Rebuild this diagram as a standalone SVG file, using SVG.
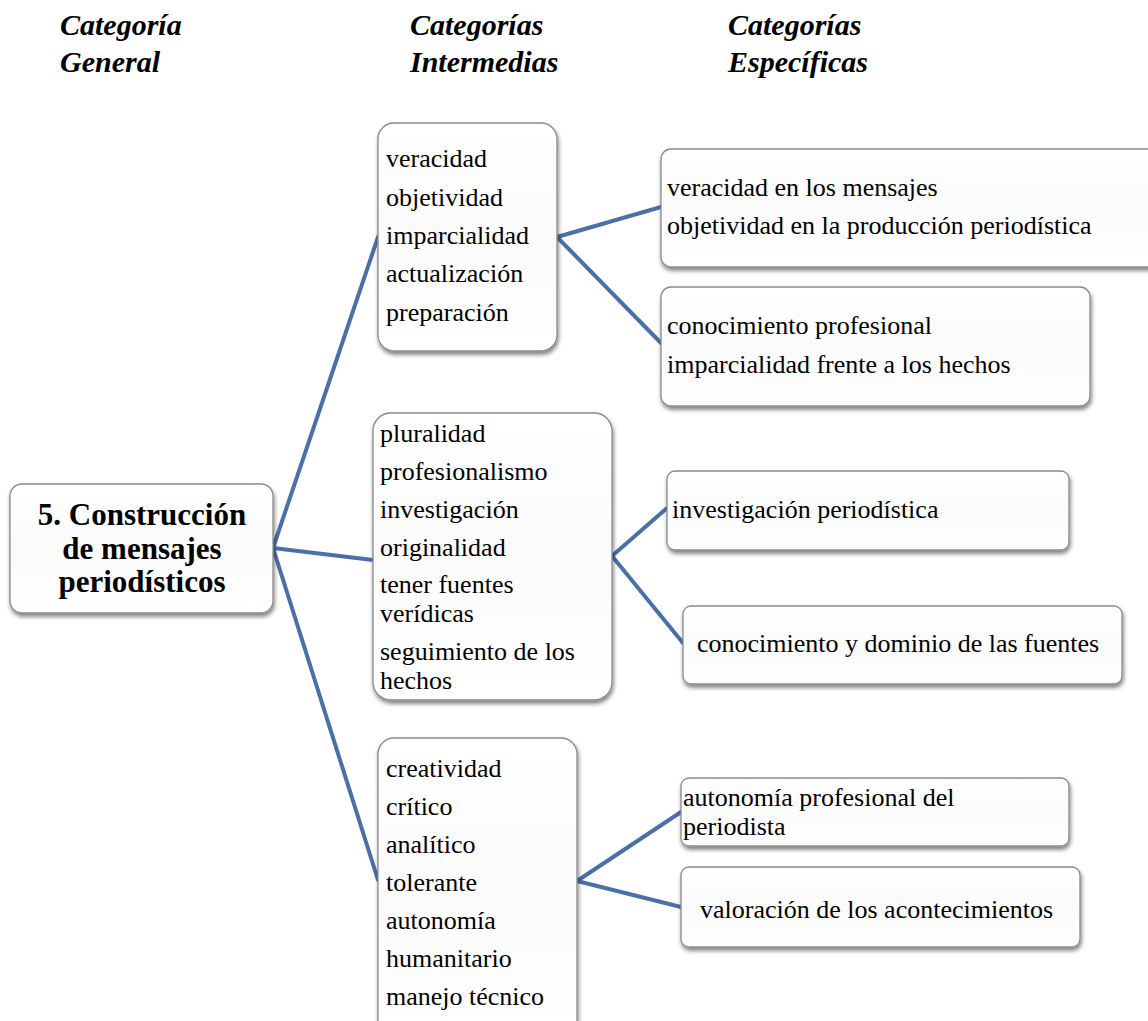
<svg xmlns="http://www.w3.org/2000/svg" width="1148" height="1021" viewBox="0 0 1148 1021">
  <defs>
    <filter id="shadow" x="-5%" y="-5%" width="112%" height="115%">
      <feGaussianBlur in="SourceAlpha" stdDeviation="2"/>
      <feOffset dx="1" dy="3" result="b"/>
      <feComponentTransfer><feFuncA type="linear" slope="0.5"/></feComponentTransfer>
      <feMerge><feMergeNode/><feMergeNode in="SourceGraphic"/></feMerge>
    </filter>
    <linearGradient id="fill" x1="0" y1="0" x2="0" y2="1">
      <stop offset="0" stop-color="#ffffff"/>
      <stop offset="0.5" stop-color="#fbfbfb"/>
      <stop offset="1" stop-color="#ffffff"/>
    </linearGradient>
  </defs>
  <style>
    .box { fill: url(#fill); stroke: #8a8a8a; stroke-width: 1.3; filter: url(#shadow); }
    .hdr { font-family: "Liberation Serif", "Times New Roman", serif; font-size: 30px; font-weight: bold; font-style: italic; fill: #000; }
    .txt { font-family: "Liberation Serif", "Times New Roman", serif; font-size: 26px; fill: #000; }
    .main { font-family: "Liberation Serif", "Times New Roman", serif; font-size: 31px; font-weight: bold; fill: #000; text-anchor: middle; }
    .link { stroke: #4a70a6; stroke-width: 4; fill: none; stroke-linecap: round; }
  </style>
  <rect width="1148" height="1021" fill="#ffffff"/>

  <!-- column headings -->
  <g id="headings">
    <text class="hdr" x="60" y="35">Categoría</text>
    <text class="hdr" x="60" y="72">General</text>
    <text class="hdr" x="410" y="35">Categorías</text>
    <text class="hdr" x="410" y="72">Intermedias</text>
    <text class="hdr" x="728" y="35">Categorías</text>
    <text class="hdr" x="728" y="72">Específicas</text>
  </g>

  <!-- connectors -->
  <g id="connectors">
    <line class="link" x1="273" y1="548" x2="378" y2="237"/>
    <line class="link" x1="273" y1="548" x2="373" y2="560"/>
    <line class="link" x1="273" y1="548" x2="378" y2="880"/>
    <line class="link" x1="557" y1="237" x2="661" y2="207"/>
    <line class="link" x1="557" y1="237" x2="661" y2="343"/>
    <line class="link" x1="612" y1="556" x2="667" y2="508"/>
    <line class="link" x1="612" y1="556" x2="683" y2="643"/>
    <line class="link" x1="577" y1="881" x2="681" y2="812"/>
    <line class="link" x1="577" y1="881" x2="681" y2="907"/>
  </g>

  <!-- general category -->
  <g id="general">
    <rect class="box" x="10" y="484" width="263" height="129" rx="12"/>
    <text class="main" x="142" y="525">5. Construcción</text>
    <text class="main" x="142" y="559">de mensajes</text>
    <text class="main" x="142" y="592">periodísticos</text>
  </g>

  <!-- intermediate categories -->
  <g id="inter1">
    <rect class="box" x="378" y="123" width="179" height="228" rx="16"/>
    <text class="txt" x="386" y="167">veracidad</text>
    <text class="txt" x="386" y="206">objetividad</text>
    <text class="txt" x="386" y="244">imparcialidad</text>
    <text class="txt" x="386" y="282">actualización</text>
    <text class="txt" x="386" y="321">preparación</text>
  </g>
  <g id="inter2">
    <rect class="box" x="373" y="413" width="239" height="287" rx="18"/>
    <text class="txt" x="380" y="442">pluralidad</text>
    <text class="txt" x="380" y="480">profesionalismo</text>
    <text class="txt" x="380" y="518">investigación</text>
    <text class="txt" x="380" y="556">originalidad</text>
    <text class="txt" x="380" y="593">tener fuentes</text>
    <text class="txt" x="380" y="622">verídicas</text>
    <text class="txt" x="380" y="660">seguimiento de los</text>
    <text class="txt" x="380" y="689">hechos</text>
  </g>
  <g id="inter3">
    <rect class="box" x="378" y="738" width="199" height="300" rx="16"/>
    <text class="txt" x="386" y="777">creatividad</text>
    <text class="txt" x="386" y="815">crítico</text>
    <text class="txt" x="386" y="853">analítico</text>
    <text class="txt" x="386" y="891">tolerante</text>
    <text class="txt" x="386" y="929">autonomía</text>
    <text class="txt" x="386" y="967">humanitario</text>
    <text class="txt" x="386" y="1005">manejo técnico</text>
  </g>

  <!-- specific categories -->
  <g id="spec1">
    <rect class="box" x="661" y="149" width="500" height="118" rx="10"/>
    <text class="txt" x="667" y="196">veracidad en los mensajes</text>
    <text class="txt" x="667" y="234">objetividad en la producción periodística</text>
  </g>
  <g id="spec2">
    <rect class="box" x="661" y="287" width="429" height="119" rx="10"/>
    <text class="txt" x="667" y="334">conocimiento profesional</text>
    <text class="txt" x="667" y="373">imparcialidad frente a los hechos</text>
  </g>
  <g id="spec3">
    <rect class="box" x="667" y="471" width="402" height="79" rx="8"/>
    <text class="txt" x="672" y="518">investigación periodística</text>
  </g>
  <g id="spec4">
    <rect class="box" x="683" y="606" width="439" height="78" rx="8"/>
    <text class="txt" x="697" y="652">conocimiento y dominio de las fuentes</text>
  </g>
  <g id="spec5">
    <rect class="box" x="681" y="778" width="388" height="68" rx="8"/>
    <text class="txt" x="683" y="806">autonomía profesional del</text>
    <text class="txt" x="683" y="835">periodista</text>
  </g>
  <g id="spec6">
    <rect class="box" x="681" y="867" width="399" height="80" rx="8"/>
    <text class="txt" x="700" y="918">valoración de los acontecimientos</text>
  </g>
</svg>
